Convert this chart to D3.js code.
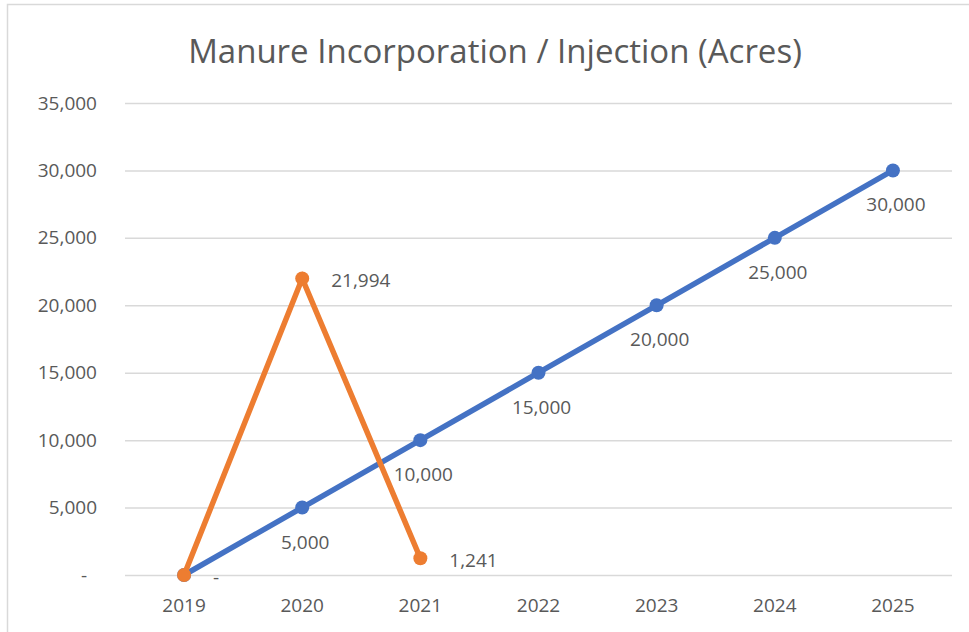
<!DOCTYPE html>
<html>
<head>
<meta charset="utf-8">
<script src="https://cdn.jsdelivr.net/npm/d3@7"></script>
<style>
  body { margin: 0; background: #fff; }
  text { font-family: "Open Sans", "Noto Sans", sans-serif; fill: #595959; }
</style>
</head>
<body>
<div id="chart"></div>
<script>
// Chart data
const years = ['2019', '2020', '2021', '2022', '2023', '2024', '2025'];
const goalValues = [0, 5000, 10000, 15000, 20000, 25000, 30000];
const actualYears = ['2019', '2020', '2021'];
const actualValues = [0, 21994, 1241];
const yTicks = [0, 5000, 10000, 15000, 20000, 25000, 30000, 35000];
const chartTitle = 'Manure Incorporation / Injection (Acres)';

const svgWidth = 969, svgHeight = 632;
const fmt = v => v === 0 ? '-' : d3.format(',')(v);

const svg = d3.select('#chart')
    .append('svg')
    .attr('width', svgWidth)
    .attr('height', svgHeight);

// Outer chart border
svg.append('rect')
    .attr('x', 7.5).attr('y', 4.5)
    .attr('width', 975).attr('height', 640)
    .attr('fill', 'none')
    .attr('stroke', '#d9d9d9')
    .attr('stroke-width', 1.5);

// Scales
const xScale = d3.scaleBand().domain(years).range([125, 952]).padding(0);
const yScale = d3.scaleLinear().domain([0, 35000]).range([575, 103]);
const cx = d => xScale(d) + xScale.bandwidth() / 2;

// Title
svg.append('text')
    .attr('x', 495).attr('y', 63)
    .attr('text-anchor', 'middle')
    .style('font-size', '33px')
    .text(chartTitle);

// Gridlines + y labels
const yAxis = svg.append('g')
    .attr('transform', 'translate(125,0)')
    .call(d3.axisLeft(yScale).tickValues(yTicks).tickFormat(fmt)
        .tickSize(-827).tickPadding(28));
yAxis.select('.domain').remove();
yAxis.selectAll('line').attr('stroke', '#d9d9d9').attr('stroke-width', 1.5);
yAxis.selectAll('text').style('font-size', '19px').attr('fill', '#595959');
// accounting-style dash sits a bit left of the digits
yAxis.selectAll('text').filter(d => d === 0).attr('dx', -10);

// x labels
const xAxis = svg.append('g')
    .attr('transform', 'translate(0,575)')
    .call(d3.axisBottom(xScale).tickSize(0).tickPadding(24));
xAxis.select('.domain').remove();
xAxis.selectAll('text').style('font-size', '19px').attr('fill', '#595959');

const line = d3.line().x(d => cx(d[0])).y(d => yScale(d[1]));

// Goal series (blue)
const goal = years.map((y, i) => [y, goalValues[i]]);
svg.append('path')
    .datum(goal)
    .attr('d', line)
    .attr('fill', 'none')
    .attr('stroke', '#4472c4')
    .attr('stroke-width', 5.5)
    .attr('stroke-linecap', 'round');
svg.selectAll('.goal-dot')
    .data(goal)
    .enter().append('circle')
    .attr('class', 'goal-dot')
    .attr('cx', d => cx(d[0]))
    .attr('cy', d => yScale(d[1]))
    .attr('r', 7)
    .attr('fill', '#4472c4');
svg.selectAll('.goal-label')
    .data(goal.filter(d => d[1] !== 0))
    .enter().append('text')
    .attr('class', 'goal-label')
    .attr('x', d => cx(d[0]) + 3)
    .attr('y', d => yScale(d[1]) + 41)
    .attr('text-anchor', 'middle')
    .style('font-size', '19px')
    .text(d => fmt(d[1]));

// Actual series (orange)
const actual = actualYears.map((y, i) => [y, actualValues[i]]);
svg.append('path')
    .datum(actual)
    .attr('d', line)
    .attr('fill', 'none')
    .attr('stroke', '#ed7d31')
    .attr('stroke-width', 5.5)
    .attr('stroke-linecap', 'round');
svg.selectAll('.act-dot')
    .data(actual)
    .enter().append('circle')
    .attr('class', 'act-dot')
    .attr('cx', d => cx(d[0]))
    .attr('cy', d => yScale(d[1]))
    .attr('r', 7)
    .attr('fill', '#ed7d31');
svg.selectAll('.act-label')
    .data(actual)
    .enter().append('text')
    .attr('class', 'act-label')
    .attr('x', d => cx(d[0]) + 29)
    .attr('y', d => yScale(d[1]) + 9)
    .style('font-size', '19px')
    .text(d => fmt(d[1]));
</script>
</body>
</html>
